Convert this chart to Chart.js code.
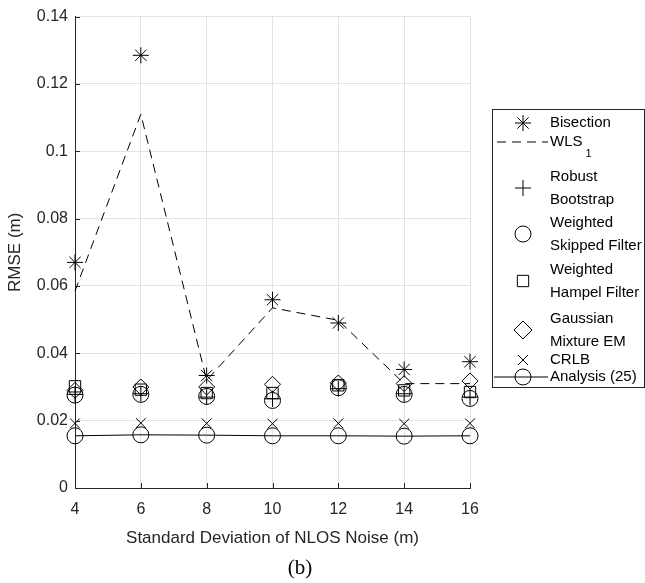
<!DOCTYPE html>
<html>
<head>
<meta charset="utf-8">
<script src="https://cdn.jsdelivr.net/npm/chart.js@4.4.1/dist/chart.umd.min.js"></script>
<style>
  body { margin: 0; background: #fff; }
  #wrap { position: relative; width: 645px; height: 583px; }
  #caption {
    position: absolute; left: 250px; width: 100px; top: 555px;
    text-align: center; font-family: "Liberation Serif", serif; font-size: 21px; color: #000;
  }
</style>
</head>
<body>
<div id="wrap">
  <canvas id="grafico" width="645" height="583"></canvas>
  <div id="caption">(b)</div>
</div>
<script>
// x axis: standard deviation of NLOS noise (m)
const noiseStd = [4, 6, 8, 10, 12, 14, 16];
const yTicks = [0, 0.02, 0.04, 0.06, 0.08, 0.1, 0.12, 0.14];

// RMSE (m) per method
const bisection = [0.0670, 0.1285, 0.0334, 0.0559, 0.0490, 0.0352, 0.0375];
const wls1 = [0.0585, 0.1110, 0.0320, 0.0535, 0.0498, 0.0310, 0.0310];
const robustBootstrap = [0.0278, 0.0280, 0.0270, 0.0265, 0.0295, 0.0280, 0.0270];
const weightedSkipped = [0.0276, 0.0278, 0.0272, 0.0260, 0.0298, 0.0278, 0.0266];
const weightedHampel = [0.0302, 0.0292, 0.0282, 0.0282, 0.0305, 0.0290, 0.0285];
const gaussianEM = [0.0290, 0.0300, 0.0300, 0.0308, 0.0312, 0.0310, 0.0318];
const crlb = [0.0192, 0.0193, 0.0192, 0.0191, 0.0192, 0.0191, 0.0192];
const analysis = [0.0155, 0.0158, 0.0157, 0.0155, 0.0155, 0.0154, 0.0155];

const AXIS = "#262626";
const FONT = "'Liberation Sans', Arial, sans-serif";
const DASH = [9, 6];

function pares(ys) {
  return noiseStd.map((x, i) => ({ x: x, y: ys[i] }));
}

function serie(label, ys, estilo, raio, linha, tracejado) {
  return {
    label: label,
    data: pares(ys),
    showLine: linha,
    clip: false,
    borderColor: "#000",
    borderWidth: 1,
    borderDash: tracejado ? DASH : [],
    pointStyle: estilo,
    pointRadius: raio,
    pointBorderColor: "#000",
    pointBorderWidth: 1,
    pointBackgroundColor: "rgba(0,0,0,0)",
    tension: 0
  };
}

const datasets = [
  serie("Bisection", bisection, "star", 8, false, false),
  serie("WLS1", wls1, false, 0, true, true),
  serie("Robust Bootstrap", robustBootstrap, "cross", 8, false, false),
  serie("Weighted Skipped Filter", weightedSkipped, "circle", 8, false, false),
  serie("Weighted Hampel Filter", weightedHampel, "rect", 8, false, false),
  serie("Gaussian Mixture EM", gaussianEM, "rectRot", 8, false, false),
  serie("CRLB", crlb, "crossRot", 7, false, false),
  serie("Analysis (25)", analysis, "circle", 8, true, false)
];

// legend entries: lines of text, marker style, center y
const legendItems = [
  { linhas: ["Bisection"], estilo: "star", raio: 8, y: 123 },
  { linhas: ["WLS"], sub: "1", estilo: null, tracejado: true, y: 142 },
  { linhas: ["Robust", "Bootstrap"], estilo: "cross", raio: 8, y: 188 },
  { linhas: ["Weighted", "Skipped Filter"], estilo: "circle", raio: 8, y: 234 },
  { linhas: ["Weighted", "Hampel Filter"], estilo: "rect", raio: 8, y: 281 },
  { linhas: ["Gaussian", "Mixture EM"], estilo: "rectRot", raio: 9, y: 330 },
  { linhas: ["CRLB"], estilo: "crossRot", raio: 7, y: 360 },
  { linhas: ["Analysis (25)"], estilo: "circle", raio: 8, linha: true, y: 377 }
];

const legendaPlugin = {
  id: "legenda",
  afterDraw(chart) {
    const ctx = chart.ctx;
    const box = { left: 492.5, top: 109.5, right: 644.5, bottom: 387.5 };
    ctx.save();
    ctx.strokeStyle = AXIS;
    ctx.lineWidth = 1;
    ctx.strokeRect(box.left, box.top, box.right - box.left, box.bottom - box.top);
    ctx.font = "15px " + FONT;
    ctx.textBaseline = "middle";
    const mx = 523;
    const tx = 550;
    legendItems.forEach(item => {
      ctx.strokeStyle = "#000";
      if (item.tracejado) {
        ctx.setLineDash(DASH);
        ctx.beginPath();
        ctx.moveTo(497, item.y);
        ctx.lineTo(548, item.y);
        ctx.stroke();
        ctx.setLineDash([]);
      }
      if (item.linha) {
        ctx.beginPath();
        ctx.moveTo(494, item.y);
        ctx.lineTo(548, item.y);
        ctx.stroke();
      }
      if (item.estilo) {
        ctx.fillStyle = "rgba(0,0,0,0)";
        Chart.helpers.drawPoint(ctx, {
          pointStyle: item.estilo, radius: item.raio, rotation: 0, borderWidth: 1
        }, mx, item.y);
      }
      ctx.fillStyle = "#000";
      if (item.linhas.length === 1) {
        ctx.fillText(item.linhas[0], tx, item.y);
        if (item.sub) {
          const w = ctx.measureText(item.linhas[0]).width;
          ctx.font = "11px " + FONT;
          ctx.fillText(item.sub, tx + w + 3, item.y + 12);
          ctx.font = "15px " + FONT;
        }
      } else {
        ctx.fillText(item.linhas[0], tx, item.y - 11);
        ctx.fillText(item.linhas[1], tx, item.y + 12);
      }
    });
    ctx.restore();
  }
};

// tick marks pointing inwards, like the original
const ticksPlugin = {
  id: "ticksInternos",
  afterDatasetsDraw(chart) {
    const ctx = chart.ctx;
    const xs = chart.scales.x;
    const ys = chart.scales.y;
    const area = chart.chartArea;
    ctx.save();
    ctx.strokeStyle = AXIS;
    ctx.lineWidth = 1;
    ctx.beginPath();
    noiseStd.forEach(v => {
      const px = Math.round(xs.getPixelForValue(v)) + 0.5;
      ctx.moveTo(px, area.bottom);
      ctx.lineTo(px, area.bottom - 5);
    });
    yTicks.forEach(v => {
      const py = Math.round(ys.getPixelForValue(v)) + 0.5;
      ctx.moveTo(area.left, py);
      ctx.lineTo(area.left + 5, py);
    });
    ctx.stroke();
    ctx.restore();
  }
};

const ctx = document.getElementById("grafico").getContext("2d");
const chart = new Chart(ctx, {
  type: "scatter",
  data: { datasets: datasets },
  plugins: [legendaPlugin, ticksPlugin],
  options: {
    responsive: false,
    animation: false,
    layout: { padding: { left: 0, top: 15, right: 175, bottom: 0 } },
    plugins: {
      legend: { display: false },
      tooltip: { enabled: false }
    },
    scales: {
      x: {
        type: "linear",
        min: 4,
        max: 16,
        afterFit: s => { s.height = 95; },
        afterBuildTicks: s => { s.ticks = noiseStd.map(v => ({ value: v })); },
        grid: { color: "#e3e3e3", drawTicks: false },
        border: { color: AXIS, width: 1 },
        ticks: { color: AXIS, padding: 12, font: { family: FONT, size: 16 }, maxRotation: 0 },
        title: {
          display: true,
          text: "Standard Deviation of NLOS Noise (m)",
          color: AXIS,
          font: { family: FONT, size: 17 },
          padding: { top: 0, bottom: 34 }
        }
      },
      y: {
        min: 0,
        max: 0.14,
        afterFit: s => { s.width = 75; },
        afterBuildTicks: s => { s.ticks = yTicks.map(v => ({ value: v })); },
        grid: { color: "#e3e3e3", drawTicks: false },
        border: { color: AXIS, width: 1 },
        ticks: {
          color: AXIS,
          padding: 7,
          font: { family: FONT, size: 16 },
          callback: v => String(+v.toFixed(2))
        },
        title: {
          display: true,
          text: "RMSE (m)",
          color: AXIS,
          font: { family: FONT, size: 17 },
          padding: { top: 5, bottom: 0 }
        }
      }
    }
  }
});
</script>
</body>
</html>
